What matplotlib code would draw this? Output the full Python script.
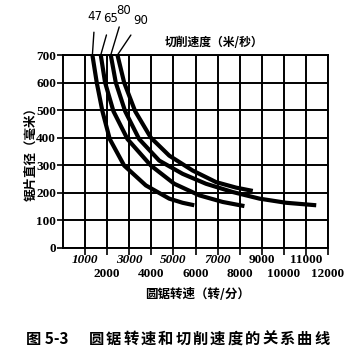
import matplotlib
matplotlib.use("Agg")
import matplotlib.pyplot as plt

plt.rcParams['font.family'] = ['Noto Sans CJK SC', 'DejaVu Sans']

# ---- data ----
speed_labels = ["47", "65", "80", "90"]

rpm_47 = [1331, 1528, 1785, 2118, 2769, 3752, 4811, 5416, 5945]
dia_47 = [700, 600, 496, 395, 299, 227, 179, 164, 155]

rpm_65 = [1710, 1906, 2284, 2920, 3979, 5038, 6172, 7231, 8215]
dia_65 = [700, 600, 496, 395, 299, 233, 191, 167, 152]

rpm_80 = [2163, 2390, 2814, 3449, 4357, 5416, 6475, 7685, 8896, 10106, 11467]
dia_80 = [700, 600, 496, 395, 317, 269, 233, 203, 179, 164, 155]

rpm_90 = [2466, 2769, 3268, 3979, 4811, 5870, 6929, 7837, 8593]
dia_90 = [700, 600, 496, 400, 335, 281, 239, 219, 207]

x_ticks = list(range(1000, 13000, 1000))
y_ticks = list(range(0, 800, 100))

fig_no = "图 5-3"
title_text = "圆锯转速和切削速度的关系曲线"
xlabel_text = "圆锯转速（转/分）"
ylabel_text = "锯片直径（毫米）"
speed_title = "切削速度（米/秒）"

# ---- figure ----
W, H = 354, 356
fig = plt.figure(figsize=(W / 100, H / 100), dpi=100)
L, R, T, B = 63, 328, 55, 248
ax = fig.add_axes([L / W, 1 - B / H, (R - L) / W, (B - T) / H])
ax.set_xlim(0, 12000)
ax.set_ylim(0, 700)

ax.set_yticks(y_ticks)
ax.set_xticks(x_ticks)
ax.grid(True, which='major', axis='both', color='black', linewidth=1.4,
        linestyle='-', alpha=1.0)
ax.set_axisbelow(True)

for s in ax.spines.values():
    s.set_linewidth(1.4)
    s.set_zorder(2)

curves = [(rpm_47, dia_47), (rpm_65, dia_65), (rpm_80, dia_80), (rpm_90, dia_90)]
for xs, ys in curves:
    ax.plot(xs, ys, color='black', lw=3.0, solid_capstyle='butt',
            solid_joinstyle='round', zorder=3, clip_on=False)

# ticks
ax.set_yticklabels([str(v) for v in y_ticks], fontfamily='Liberation Serif',
                   fontweight='bold', fontsize=9.5)
ax.set_xticklabels([])
ax.tick_params(axis='y', length=4, width=1.2, pad=1)
ax.tick_params(axis='x', length=5, width=1.2, direction='out')

for i, x in enumerate(x_ticks):
    top_row = (i % 2 == 0)
    ax.annotate(str(x), xy=(x, 0), xycoords='data',
                xytext=(0, -12 if top_row else -26), textcoords='offset pixels',
                ha='center', va='center', fontfamily='Liberation Serif',
                fontweight='bold', fontstyle='italic' if (top_row and x < 8000) else 'normal',
                fontsize=9.5)

# axis labels
fig.text(198 / W, 1 - 294 / H, xlabel_text, ha='center', va='center',
         fontsize=9, fontweight='bold')
fig.text(31 / W, 1 - 151 / H, ylabel_text, ha='center', va='center',
         rotation=90, fontsize=9, fontweight='bold')
fig.text(214 / W, 1 - 42 / H, speed_title, ha='center', va='center',
         fontsize=8.5, fontweight='bold')

# speed labels with pointer lines
label_pos = [(95, 16), (111, 19), (124, 11), (141, 20)]
for lab, (xs, ys), (lx, ly) in zip(speed_labels, curves, label_pos):
    ax.annotate(lab, xy=(xs[0], ys[0]), xycoords='data',
                xytext=(lx / W, 1 - ly / H), textcoords='figure fraction',
                ha='center', va='center', fontsize=8.5, fontfamily='Liberation Sans Narrow',
                arrowprops=dict(arrowstyle='-', color='black', lw=1.0,
                                shrinkA=5, shrinkB=0))

# caption
fig.text(47 / W, 1 - 339 / H, fig_no, ha='center', va='center',
         fontsize=11, fontweight='bold')
x0, x1 = 96, 322
step = (x1 - x0) / (len(title_text) - 1)
for k, ch in enumerate(title_text):
    fig.text((x0 + k * step) / W, 1 - 339 / H, ch, ha='center', va='center',
             fontsize=11, fontweight='bold')

fig.savefig("out.png", dpi=100)
